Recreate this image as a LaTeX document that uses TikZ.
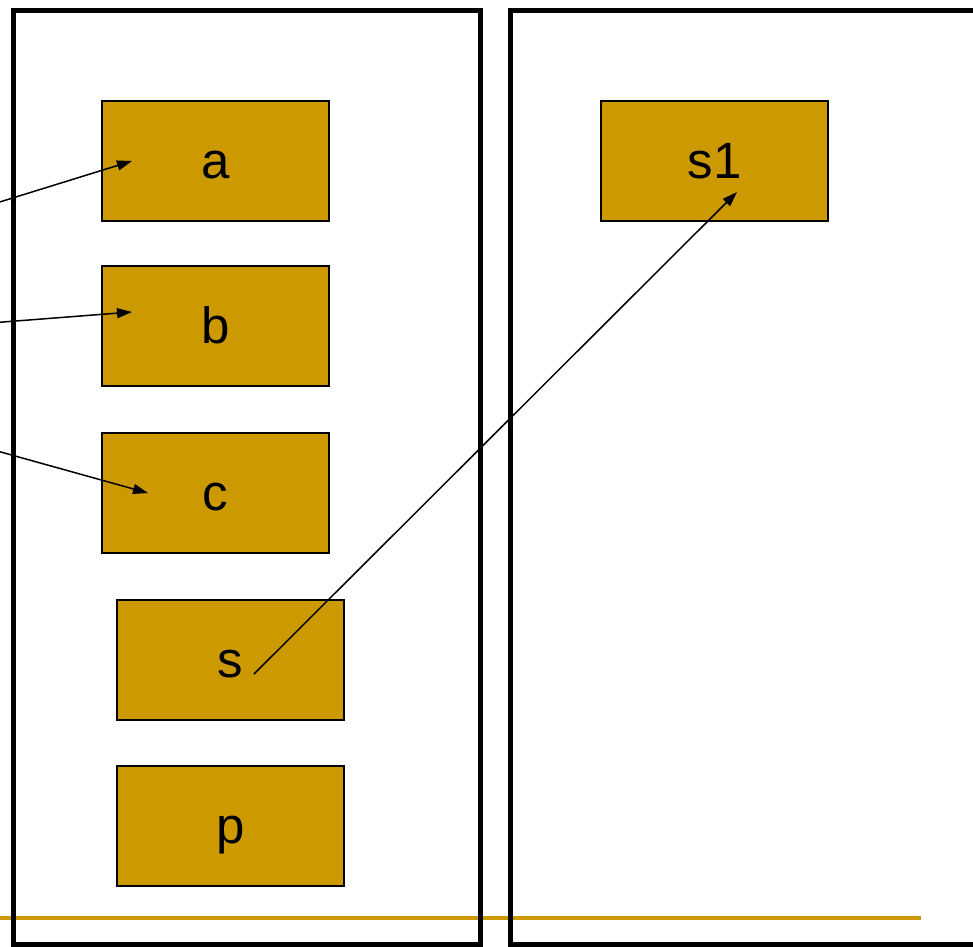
\documentclass[tikz,border=0pt]{standalone}
\usepackage{fontspec}
\setmainfont{Liberation Sans}
\usetikzlibrary{arrows.meta,calc}
\definecolor{gold}{HTML}{CC9900}
\tikzset{
  frame/.style={draw=black,line width=5pt},
  cell/.style={draw=black,line width=2pt,fill=gold,rectangle,inner sep=0pt,
    minimum width=227pt,minimum height=120pt,
    font=\fontsize{51}{60}\selectfont,text height=40pt,text depth=5pt},
  ptr/.style={draw=black,line width=1.5pt,-{Triangle[length=15pt,width=10pt]}},
  rule/.style={draw=gold,line width=4pt}
}
\begin{document}
\begin{tikzpicture}[x=1pt,y=-1pt]
\useasboundingbox (0,0) rectangle (973,946);
% golden rule (below frames)
\coordinate (rl) at (-5,918);
\coordinate (rr) at (921,918);
\draw[rule] (rl) -- (rr);
% frames
\draw[frame] (13,10) rectangle (480,944);
\draw[frame] (510,10) rectangle (995,944);
% cells
\node[cell] (a)  at (215.5,160.5) {a};
\node[cell] (b)  at (215.5,326) {b};
\node[cell] (c)  at (215.5,493) {c};
\node[cell] (s)  at (230.5,659.5) {s};
\node[cell] (p)  at (230.5,825.5) {p};
\node[cell] (s1) at (714.5,160.5) {s1};
% pointer sources off the left edge
\coordinate (pa) at (-10,205);
\coordinate (pb) at (-10,323);
\coordinate (pc) at (-10,449);
\draw[ptr] (pa) -- ($(a.center)+(-83.5,0.5)$);
\draw[ptr] (pb) -- ($(b.center)+(-83.5,-14)$);
\draw[ptr] (pc) -- ($(c.center)+(-67.5,0)$);
\draw[ptr] ($(s.center)+(23.5,14.5)$) -- ($(s1.center)+(22.5,31.5)$);
\end{tikzpicture}
\end{document}
